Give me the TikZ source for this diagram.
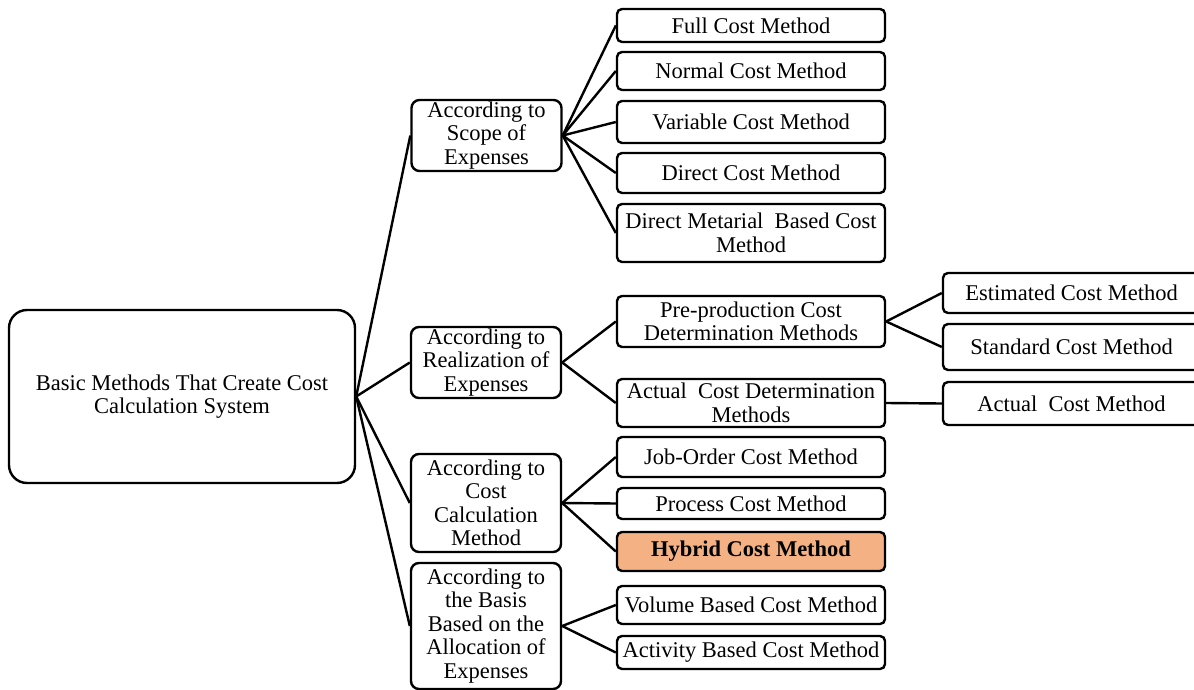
\documentclass[tikz,border=0pt]{standalone}
\usepackage{fontspec}
\setmainfont{Liberation Serif}
\definecolor{hybridfill}{HTML}{F4B183}
\begin{document}
\begin{tikzpicture}[x=1pt,y=-1pt,
  box/.style={draw, line width=2.4pt, rounded corners=5pt, inner sep=0pt, align=center,
    font=\fontsize{22.5}{23.5}\selectfont, fill=white},
  leaf/.style={box, minimum width=268pt},
  farleaf/.style={box, minimum width=257pt},
  mid/.style={box, rounded corners=8pt, minimum width=150pt},
  rootbox/.style={box, rounded corners=18pt, minimum width=346pt, minimum height=173pt},
  conn/.style={line width=2.4pt}]
\clip (0,0) rectangle (1194,690);
\fill[white] (0,0) rectangle (1194,690);

% root
\node[rootbox] (root) at (182,396.5) {Basic Methods That Create Cost\\Calculation System};

% level 1
\node[mid, minimum height=71pt] (scope) at (486.5,135.5) {According to\\Scope of\\Expenses};
\node[mid, minimum height=71pt] (real) at (486,362.5) {According to\\Realization of\\Expenses};
\node[mid, minimum height=98pt] (calc) at (486,503) {According to\\Cost\\Calculation\\Method};
\node[mid, minimum height=126pt] (basis) at (486,626) {According to\\the Basis\\Based on the\\Allocation of\\Expenses};

% scope leaves
\node[leaf, minimum height=33pt] (full) at (751,25.5) {Full Cost Method};
\node[leaf, minimum height=38pt] (normal) at (751,71) {Normal Cost Method};
\node[leaf, minimum height=42pt] (variable) at (751,122) {Variable Cost Method};
\node[leaf, minimum height=40pt] (direct) at (751,173) {Direct Cost Method};
\node[leaf, minimum height=58pt] (dm) at (751,233) {Direct Metarial\ \ Based Cost\\Method};

% realization
\node[leaf, minimum height=51pt] (pre) at (751,321.5) {Pre-production Cost\\Determination Methods};
\node[leaf, minimum height=48pt] (acd) at (751,403) {Actual\ \ Cost Determination\\Methods};
\node[farleaf, minimum height=40pt] (est) at (1071.5,293) {Estimated Cost Method};
\node[farleaf, minimum height=46pt] (std) at (1071.5,347) {Standard Cost Method};
\node[farleaf, minimum height=43pt] (act) at (1071.5,403.5) {Actual\ \ Cost Method};

% calculation
\node[leaf, minimum height=40pt] (job) at (751,457) {Job-Order Cost Method};
\node[leaf, minimum height=31pt] (proc) at (751,503.5) {Process Cost Method};
\node[leaf, minimum height=39pt, fill=hybridfill, font=\fontsize{22.5}{23.5}\selectfont\bfseries] (hyb) at (751,551.5) {Hybrid Cost Method};

% basis
\node[leaf, minimum height=38pt] (vol) at (751,605) {Volume Based Cost Method};
\node[leaf, minimum height=33pt] (abc) at (751,652.5) {Activity Based Cost Method};

% connectors
\foreach \t in {scope,real,calc,basis} \draw[conn] (root.east) -- (\t.west);
\foreach \t in {full,normal,variable,direct,dm} \draw[conn] (scope.east) -- (\t.west);
\foreach \t in {pre,acd} \draw[conn] (real.east) -- (\t.west);
\foreach \t in {est,std} \draw[conn] (pre.east) -- (\t.west);
\draw[conn] (acd.east) -- (act.west);
\foreach \t in {job,proc,hyb} \draw[conn] (calc.east) -- (\t.west);
\foreach \t in {vol,abc} \draw[conn] (basis.east) -- (\t.west);
\end{tikzpicture}
\end{document}
